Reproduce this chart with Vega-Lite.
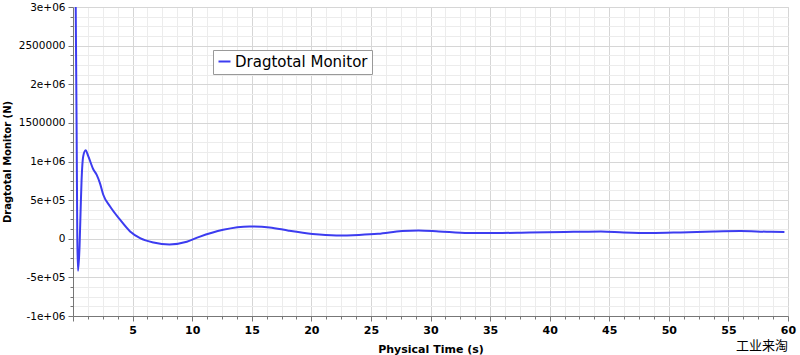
{
  "$schema": "https://vega.github.io/schema/vega-lite/v6.json",
  "width": 715,
  "height": 309,
  "autosize": {"type": "none"},
  "padding": {"left": 73, "top": 7, "right": 12, "bottom": 39},
  "background": "white",
  "config": {
    "view": {"stroke": "#d4d4d4", "strokeWidth": 1},
    "font": "DejaVu Sans"
  },
  "title": {
    "text": "工业来淘",
    "orient": "bottom",
    "anchor": "end",
    "frame": "group",
    "font": "Noto Sans CJK SC",
    "fontSize": 13,
    "fontWeight": "normal",
    "color": "#000",
    "offset": -14,
    "dx": 0
  },
  "data": {
    "values": [
      {"t": 0.18, "v": 4000000, "s": "Dragtotal Monitor"},
      {"t": 0.3, "v": 1500000, "s": "Dragtotal Monitor"},
      {"t": 0.36, "v": 30000, "s": "Dragtotal Monitor"},
      {"t": 0.42, "v": -415000, "s": "Dragtotal Monitor"},
      {"t": 0.55, "v": -100000, "s": "Dragtotal Monitor"},
      {"t": 0.64, "v": 376000, "s": "Dragtotal Monitor"},
      {"t": 0.72, "v": 760000, "s": "Dragtotal Monitor"},
      {"t": 0.86, "v": 1070000, "s": "Dragtotal Monitor"},
      {"t": 1.06, "v": 1145000, "s": "Dragtotal Monitor"},
      {"t": 1.28, "v": 1070000, "s": "Dragtotal Monitor"},
      {"t": 1.7, "v": 900000, "s": "Dragtotal Monitor"},
      {"t": 1.98, "v": 830000, "s": "Dragtotal Monitor"},
      {"t": 2.26, "v": 720000, "s": "Dragtotal Monitor"},
      {"t": 2.54, "v": 570000, "s": "Dragtotal Monitor"},
      {"t": 3.1, "v": 420000, "s": "Dragtotal Monitor"},
      {"t": 3.95, "v": 246000, "s": "Dragtotal Monitor"},
      {"t": 4.79, "v": 95000, "s": "Dragtotal Monitor"},
      {"t": 5.63, "v": 9000, "s": "Dragtotal Monitor"},
      {"t": 6.75, "v": -48000, "s": "Dragtotal Monitor"},
      {"t": 8.1, "v": -74000, "s": "Dragtotal Monitor"},
      {"t": 9.55, "v": -39000, "s": "Dragtotal Monitor"},
      {"t": 10.6, "v": 25000, "s": "Dragtotal Monitor"},
      {"t": 12.6, "v": 117000, "s": "Dragtotal Monitor"},
      {"t": 14.8, "v": 160000, "s": "Dragtotal Monitor"},
      {"t": 16.5, "v": 147000, "s": "Dragtotal Monitor"},
      {"t": 18.1, "v": 104000, "s": "Dragtotal Monitor"},
      {"t": 20.1, "v": 61000, "s": "Dragtotal Monitor"},
      {"t": 22.1, "v": 43000, "s": "Dragtotal Monitor"},
      {"t": 24.0, "v": 50000, "s": "Dragtotal Monitor"},
      {"t": 25.6, "v": 64000, "s": "Dragtotal Monitor"},
      {"t": 27.6, "v": 100000, "s": "Dragtotal Monitor"},
      {"t": 29.0, "v": 108000, "s": "Dragtotal Monitor"},
      {"t": 30.7, "v": 95000, "s": "Dragtotal Monitor"},
      {"t": 33.2, "v": 74000, "s": "Dragtotal Monitor"},
      {"t": 35.5, "v": 74000, "s": "Dragtotal Monitor"},
      {"t": 38.3, "v": 82000, "s": "Dragtotal Monitor"},
      {"t": 42.0, "v": 90000, "s": "Dragtotal Monitor"},
      {"t": 44.3, "v": 95000, "s": "Dragtotal Monitor"},
      {"t": 46.2, "v": 82000, "s": "Dragtotal Monitor"},
      {"t": 48.5, "v": 74000, "s": "Dragtotal Monitor"},
      {"t": 51.0, "v": 82000, "s": "Dragtotal Monitor"},
      {"t": 53.8, "v": 95000, "s": "Dragtotal Monitor"},
      {"t": 56.0, "v": 100000, "s": "Dragtotal Monitor"},
      {"t": 58.2, "v": 91000, "s": "Dragtotal Monitor"},
      {"t": 59.7, "v": 87000, "s": "Dragtotal Monitor"}
    ]
  },
  "mark": {"type": "line", "interpolate": "monotone", "strokeWidth": 2, "clip": true},
  "encoding": {
    "x": {
      "field": "t",
      "type": "quantitative",
      "scale": {"domain": [0, 60], "nice": false, "zero": false},
      "axis": {
        "title": "Physical Time (s)",
        "titleFont": "DejaVu Sans",
        "titleFontSize": 11,
        "titleFontWeight": "bold",
        "titleColor": "#000",
        "titlePadding": 8,
        "values": [0,1.25,2.5,3.75,5,6.25,7.5,8.75,10,11.25,12.5,13.75,15,16.25,17.5,18.75,20,21.25,22.5,23.75,25,26.25,27.5,28.75,30,31.25,32.5,33.75,35,36.25,37.5,38.75,40,41.25,42.5,43.75,45,46.25,47.5,48.75,50,51.25,52.5,53.75,55,56.25,57.5,58.75,60],
        "labelExpr": "(datum.value % 5 === 0 && datum.value > 0) ? datum.value : ''",
        "labelOverlap": false,
        "labelFont": "DejaVu Sans",
        "labelFontSize": 11,
        "labelFontWeight": "bold",
        "labelColor": "#000",
        "labelPadding": 3,
        "labelFlush": false,
        "domainColor": "#777",
        "tickColor": "#777",
        "tickSize": {"condition": {"test": "datum.value % 5 === 0", "value": 5}, "value": 3},
        "grid": true,
        "gridColor": {"condition": {"test": "datum.value % 5 === 0", "value": "#d6d6d6"}, "value": "#ececec"},
        "gridWidth": 1
      }
    },
    "y": {
      "field": "v",
      "type": "quantitative",
      "scale": {"domain": [-1000000, 3000000], "nice": false, "zero": false},
      "axis": {
        "title": "Dragtotal Monitor (N)",
        "titleFont": "DejaVu Sans",
        "titleFontSize": 10,
        "titleFontWeight": "bold",
        "titleColor": "#000",
        "titlePadding": 6,
        "values": [-1000000,-875000,-750000,-625000,-500000,-375000,-250000,-125000,0,125000,250000,375000,500000,625000,750000,875000,1000000,1125000,1250000,1375000,1500000,1625000,1750000,1875000,2000000,2125000,2250000,2375000,2500000,2625000,2750000,2875000,3000000],
        "labelExpr": "datum.value === 3000000 ? '3e+06' : datum.value === 2500000 ? '2500000' : datum.value === 2000000 ? '2e+06' : datum.value === 1500000 ? '1500000' : datum.value === 1000000 ? '1e+06' : datum.value === 500000 ? '5e+05' : datum.value === 0 ? '0' : datum.value === -500000 ? '-5e+05' : datum.value === -1000000 ? '-1e+06' : ''",
        "labelOverlap": false,
        "labelFont": "DejaVu Sans",
        "labelFontSize": 10.5,
        "labelColor": "#000",
        "labelPadding": 3,
        "labelFlush": false,
        "domainColor": "#777",
        "tickColor": "#777",
        "tickSize": {"condition": {"test": "datum.value % 500000 === 0", "value": 5}, "value": 3},
        "grid": true,
        "gridColor": {"condition": {"test": "datum.value % 500000 === 0", "value": "#d6d6d6"}, "value": "#ececec"},
        "gridWidth": 1
      }
    },
    "color": {
      "field": "s",
      "type": "nominal",
      "scale": {"range": ["#3c3cf0"]},
      "legend": {
        "title": null,
        "orient": "none",
        "legendX": 140,
        "legendY": 43,
        "symbolType": "stroke",
        "symbolSize": 144,
        "symbolStrokeWidth": 2,
        "labelFont": "DejaVu Sans",
        "labelFontSize": 15,
        "labelColor": "#000",
        "labelOffset": 3,
        "fillColor": "white",
        "strokeColor": "#999",
        "padding": 4,
        "cornerRadius": 0
      }
    }
  }
}
